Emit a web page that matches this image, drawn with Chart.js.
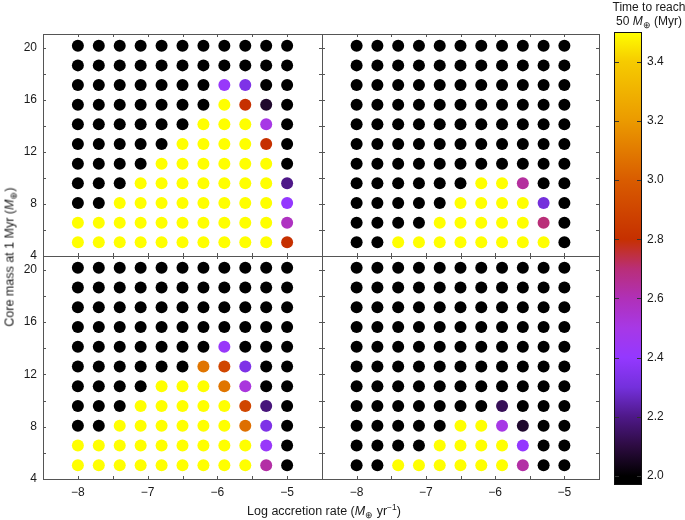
<!DOCTYPE html>
<html>
<head>
<meta charset="utf-8">
<script src="https://cdn.jsdelivr.net/npm/chart.js@4/dist/chart.umd.min.js"></script>
<style>
  body { margin: 0; background: #fff; }
  #wrap { position: relative; width: 685px; height: 520px; overflow: hidden;
          font-family: "Liberation Sans", Arial, sans-serif; color: #1a1a1a; }
  canvas { position: absolute; left: 0; top: 0; }
  .txt { position: absolute; font-size: 12.5px; line-height: 14px; white-space: nowrap; }
  .sub { font-size: 8.5px; position: relative; top: 3px; }
  .sup { font-size: 8.5px; position: relative; top: -5px; }
</style>
</head>
<body>
<div id="wrap">
  <canvas id="pA" width="685" height="520"></canvas>
  <canvas id="pB" width="685" height="520"></canvas>
  <canvas id="pC" width="685" height="520"></canvas>
  <canvas id="pD" width="685" height="520"></canvas>
  <canvas id="cb" width="685" height="520"></canvas>

  <div class="txt" id="ytitle" style="left:10px; top:257px; transform: translate(-50%,-50%) rotate(-90deg);">Core mass at 1 Myr (<i>M</i><span class="sub">⊕</span>)</div>
  <div class="txt" style="left:324px; top:511px; transform: translate(-50%,-50%);">Log accretion rate (<i>M</i><span class="sub">⊕</span> yr<span class="sup">−1</span>)</div>
  <div class="txt" style="left:649px; top:0px; transform: translateX(-50%); text-align:center; font-size:12px;">Time to reach<br>50 <i>M</i><span class="sub">⊕</span> (Myr)</div>
</div>

<script>
// grid of runs: log accretion rate (columns) x core mass at 1 Myr (rows, top to bottom)
const colVals = [-8.0, -7.7, -7.4, -7.1, -6.8, -6.5, -6.2, -5.9, -5.6, -5.3, -5.0];
const rowVals = [20.15, 18.64, 17.13, 15.62, 14.11, 12.6, 11.09, 9.58, 8.07, 6.56, 5.05];

const xTicks = [-8, -7.5, -7, -6.5, -6, -5.5, -5];
const yTicks = [4, 6, 8, 10, 12, 14, 16, 18, 20];
const cbTicks = [2.0, 2.2, 2.4, 2.6, 2.8, 3.0, 3.2, 3.4];
const cbRange = [1.97, 3.5];

// time to reach 50 M_earth (Myr); o = never reached (black), Y = beyond top of scale (yellow)
const o = 0, Y = 3.6;
const timesA = [
  [o, o, o, o, o, o, o, o, o, o, o],
  [o, o, o, o, o, o, o, o, o, o, o],
  [o, o, o, o, o, o, o, 2.42, 2.33, o, o],
  [o, o, o, o, o, o, o, Y, 2.8, 2.07, o],
  [o, o, o, o, o, o, Y, Y, Y, 2.5, o],
  [o, o, o, o, o, Y, Y, Y, Y, 2.8, o],
  [o, o, o, o, Y, Y, Y, Y, Y, Y, o],
  [o, o, o, Y, Y, Y, Y, Y, Y, Y, 2.2],
  [o, o, Y, Y, Y, Y, Y, Y, Y, Y, 2.4],
  [Y, Y, Y, Y, Y, Y, Y, Y, Y, Y, 2.58],
  [Y, Y, Y, Y, Y, Y, Y, Y, Y, Y, 2.8]
];
const timesB = [
  [o, o, o, o, o, o, o, o, o, o, o],
  [o, o, o, o, o, o, o, o, o, o, o],
  [o, o, o, o, o, o, o, o, o, o, o],
  [o, o, o, o, o, o, o, o, o, o, o],
  [o, o, o, o, o, o, o, o, o, o, o],
  [o, o, o, o, o, o, o, o, o, o, o],
  [o, o, o, o, o, o, o, o, o, o, o],
  [o, o, o, o, o, o, Y, Y, 2.64, o, o],
  [o, o, o, o, o, Y, Y, Y, Y, 2.3, o],
  [o, o, o, o, Y, Y, Y, Y, Y, 2.7, o],
  [o, o, Y, Y, Y, Y, Y, Y, Y, Y, o]
];
const timesC = [
  [o, o, o, o, o, o, o, o, o, o, o],
  [o, o, o, o, o, o, o, o, o, o, o],
  [o, o, o, o, o, o, o, o, o, o, o],
  [o, o, o, o, o, o, o, o, o, o, o],
  [o, o, o, o, o, o, o, 2.42, o, o, o],
  [o, o, o, o, o, o, 3.08, 2.9, 2.33, o, o],
  [o, o, o, o, Y, Y, Y, 3.08, 2.52, o, o],
  [o, o, o, Y, Y, Y, Y, Y, 2.9, 2.18, o],
  [o, o, Y, Y, Y, Y, Y, Y, 3.06, 2.33, o],
  [Y, Y, Y, Y, Y, Y, Y, Y, Y, 2.42, o],
  [Y, Y, Y, Y, Y, Y, Y, Y, Y, 2.63, o]
];
const timesD = [
  [o, o, o, o, o, o, o, o, o, o, o],
  [o, o, o, o, o, o, o, o, o, o, o],
  [o, o, o, o, o, o, o, o, o, o, o],
  [o, o, o, o, o, o, o, o, o, o, o],
  [o, o, o, o, o, o, o, o, o, o, o],
  [o, o, o, o, o, o, o, o, o, o, o],
  [o, o, o, o, o, o, o, o, o, o, o],
  [o, o, o, o, o, o, o, 2.13, o, o, o],
  [o, o, o, o, o, Y, Y, 2.5, 2.07, o, o],
  [o, o, o, o, Y, Y, Y, Y, 2.4, o, o],
  [o, o, Y, Y, Y, Y, Y, Y, 2.63, o, o]
];

// colour map of the colour bar
const cmapVals = [2.0, 2.1, 2.2, 2.3, 2.4, 2.5, 2.6, 2.7, 2.75, 2.8, 3.0, 3.2, 3.4, 3.5];
const cmapColors = ['#000000', '#2c0b40', '#4e1888', '#7430dc', '#9438ff', '#a738e6', '#b030b8',
                    '#b92e78', '#c0303c', '#c63000', '#d95c00', '#eb9a00', '#f6cb00', '#ffff00'];

function hexRgb(h) {
  return [parseInt(h.slice(1, 3), 16), parseInt(h.slice(3, 5), 16), parseInt(h.slice(5, 7), 16)];
}
function colorFor(t) {
  if (t <= cmapVals[0]) return cmapColors[0];
  const n = cmapVals.length - 1;
  if (t >= cmapVals[n]) return cmapColors[n];
  let i = 0;
  while (t > cmapVals[i + 1]) i++;
  const f = (t - cmapVals[i]) / (cmapVals[i + 1] - cmapVals[i]);
  const a = hexRgb(cmapColors[i]), b = hexRgb(cmapColors[i + 1]);
  const c = a.map((v, k) => Math.round(v + (b[k] - v) * f));
  return `rgb(${c[0]},${c[1]},${c[2]})`;
}

const font = { family: '"Liberation Sans", Arial, sans-serif', size: 12 };
const minus = v => String(v).replace('-', '\u2212');

// frame plus small inward ticks on every side
const framePlugin = {
  id: 'frame',
  afterDraw(chart) {
    const { ctx, chartArea: a, scales: { x, y } } = chart;
    ctx.save();
    ctx.strokeStyle = '#555';
    ctx.lineWidth = 1;
    ctx.strokeRect(Math.round(a.left) + 0.5, Math.round(a.top) + 0.5,
                   Math.round(a.right - a.left), Math.round(a.bottom - a.top));
    ctx.beginPath();
    xTicks.forEach(v => {
      const px = Math.round(x.getPixelForValue(v)) + 0.5;
      ctx.moveTo(px, a.bottom); ctx.lineTo(px, a.bottom - 3);
      ctx.moveTo(px, a.top); ctx.lineTo(px, a.top + 3);
    });
    yTicks.forEach(v => {
      const py = Math.round(y.getPixelForValue(v)) + 0.5;
      ctx.moveTo(a.left, py); ctx.lineTo(a.left + 3, py);
      ctx.moveTo(a.right, py); ctx.lineTo(a.right - 3, py);
    });
    ctx.stroke();
    ctx.restore();
  }
};

function panel(id, times, box, showX, showY) {
  const pts = [], cols = [];
  times.forEach((row, r) => row.forEach((t, c) => {
    pts.push({ x: colVals[c], y: rowVals[r] });
    cols.push(colorFor(t));
  }));
  const yW = showY ? 30 : 0, xH = showX ? 25 : 0;
  new Chart(document.getElementById(id), {
    type: 'scatter',
    data: { datasets: [{ data: pts, backgroundColor: cols, pointRadius: 6, borderWidth: 0, pointHoverRadius: 6 }] },
    options: {
      responsive: false,
      devicePixelRatio: 1,
      animation: false,
      events: [],
      layout: { padding: { left: box.l - yW, top: box.t, right: 685 - box.r, bottom: 520 - box.b - xH } },
      plugins: { legend: { display: false }, tooltip: { enabled: false } },
      scales: {
        x: {
          type: 'linear', min: -8.5, max: -4.5,
          grid: { display: false, drawTicks: false }, border: { display: false },
          afterBuildTicks: s => { s.ticks = xTicks.map(v => ({ value: v })); },
          afterFit: s => { s.height = xH; },
          ticks: { display: showX, padding: 6, maxRotation: 0, autoSkip: false, font, color: '#1a1a1a',
                   callback: v => Number.isInteger(v) ? minus(v) : '' }
        },
        y: {
          type: 'linear', min: 4, max: 21.05,
          grid: { display: false, drawTicks: false }, border: { display: false },
          afterBuildTicks: s => { s.ticks = yTicks.map(v => ({ value: v })); },
          afterFit: s => { s.width = yW; },
          ticks: { display: showY, padding: 6, autoSkip: false, font, color: '#1a1a1a',
                   callback: v => v % 4 === 0 ? String(v) : '' }
        }
      }
    },
    plugins: [framePlugin]
  });
}

panel('pA', timesA, { l: 43, t: 34, r: 322, b: 256 }, false, true);
panel('pB', timesB, { l: 322, t: 34, r: 599, b: 256 }, false, false);
panel('pC', timesC, { l: 43, t: 256, r: 322, b: 479 }, true, true);
panel('pD', timesD, { l: 322, t: 256, r: 599, b: 479 }, true, false);

// colour bar
const cbPlugin = {
  id: 'cbframe',
  afterDraw(chart) {
    const { ctx, chartArea: a, scales: { y } } = chart;
    ctx.save();
    ctx.strokeStyle = '#333';
    ctx.lineWidth = 1;
    ctx.beginPath();
    cbTicks.forEach(v => {
      const py = Math.round(y.getPixelForValue(v)) + 0.5;
      ctx.moveTo(a.left, py); ctx.lineTo(a.left + 5, py);
      ctx.moveTo(a.right, py); ctx.lineTo(a.right - 5, py);
    });
    ctx.stroke();
    ctx.strokeStyle = '#111';
    ctx.strokeRect(Math.round(a.left) + 0.5, Math.round(a.top) + 0.5,
                   Math.round(a.right - a.left) - 1, Math.round(a.bottom - a.top) - 1);
    ctx.restore();
  }
};

new Chart(document.getElementById('cb'), {
  type: 'bar',
  data: {
    labels: ['t'],
    datasets: [{
      data: [[cbRange[0], cbRange[1]]],
      barPercentage: 1, categoryPercentage: 1, borderWidth: 0,
      backgroundColor: c => {
        const ch = c.chart, a = ch.chartArea;
        if (!a) return '#000';
        const y = ch.scales.y;
        const y0 = y.getPixelForValue(cmapVals[0]);
        const y1 = y.getPixelForValue(cmapVals[cmapVals.length - 1]);
        const g = ch.ctx.createLinearGradient(0, y0, 0, y1);
        const span = cmapVals[cmapVals.length - 1] - cmapVals[0];
        cmapVals.forEach((v, i) => g.addColorStop((v - cmapVals[0]) / span, cmapColors[i]));
        return g;
      }
    }]
  },
  options: {
    responsive: false,
    devicePixelRatio: 1,
    animation: false,
    events: [],
    layout: { padding: { left: 614, top: 32, right: 3, bottom: 35 } },
    plugins: { legend: { display: false }, tooltip: { enabled: false } },
    scales: {
      x: { display: false },
      y: {
        position: 'right', min: cbRange[0], max: cbRange[1],
        grid: { display: false, drawTicks: false }, border: { display: false },
        afterBuildTicks: s => { s.ticks = cbTicks.map(v => ({ value: v })); },
        afterFit: s => { s.width = 685 - 3 - 642; },
        ticks: { padding: 5, font, color: '#1a1a1a', callback: v => v.toFixed(1) }
      }
    }
  },
  plugins: [cbPlugin]
});
</script>
</body>
</html>
